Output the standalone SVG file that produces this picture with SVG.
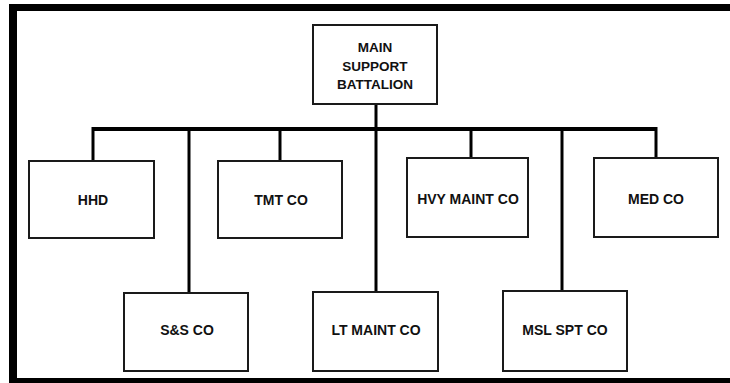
<svg xmlns="http://www.w3.org/2000/svg" width="730" height="383" viewBox="0 0 730 383">
<style>
.box{fill:#fff;stroke:#1a1a1a;stroke-width:2}
.lbl{font-family:"Liberation Sans",Arial,sans-serif;font-weight:bold;font-size:14px;fill:#111;text-anchor:middle}
.main{font-size:13.5px}
.ln{stroke:#000;stroke-width:3;fill:none}
.bus{stroke:#000;stroke-width:4;fill:none}
</style>
<rect x="0" y="0" width="730" height="383" fill="#fff"/>
<g id="frame">
<rect x="9" y="4" width="721" height="7" fill="#000"/>
<rect x="9" y="4" width="8" height="379" fill="#000"/>
<rect x="9" y="378" width="721" height="5" fill="#000"/>
</g>
<g id="connectors">
<line class="ln" x1="376" y1="104" x2="376" y2="292"/>
<line class="bus" x1="93" y1="129" x2="656" y2="129"/>
<line class="ln" x1="93" y1="127" x2="93" y2="161"/>
<line class="ln" x1="189" y1="127" x2="189" y2="293"/>
<line class="ln" x1="280" y1="127" x2="280" y2="161"/>
<line class="ln" x1="471" y1="127" x2="471" y2="158"/>
<line class="ln" x1="562" y1="127" x2="562" y2="291"/>
<line class="ln" x1="656" y1="127" x2="656" y2="158"/>
</g>
<g id="main-support-battalion">
<rect class="box" x="313" y="25" width="124" height="79"/>
<text class="lbl main" x="375" y="52">MAIN</text>
<text class="lbl main" x="375" y="71">SUPPORT</text>
<text class="lbl main" x="375" y="89">BATTALION</text>
</g>
<g id="hhd">
<rect class="box" x="29" y="161" width="125" height="77"/>
<text class="lbl" x="93" y="205">HHD</text>
</g>
<g id="tmt-co">
<rect class="box" x="218" y="161" width="124" height="77"/>
<text class="lbl" x="281" y="205">TMT CO</text>
</g>
<g id="hvy-maint-co">
<rect class="box" x="407" y="158" width="121" height="79"/>
<text class="lbl" x="468" y="204">HVY MAINT CO</text>
</g>
<g id="med-co">
<rect class="box" x="594" y="158" width="124" height="79"/>
<text class="lbl" x="656" y="204">MED CO</text>
</g>
<g id="ss-co">
<rect class="box" x="124" y="293" width="124" height="78"/>
<text class="lbl" x="187" y="335">S&amp;S CO</text>
</g>
<g id="lt-maint-co">
<rect class="box" x="313" y="292" width="125" height="79"/>
<text class="lbl" x="376" y="335">LT MAINT CO</text>
</g>
<g id="msl-spt-co">
<rect class="box" x="503" y="291" width="124" height="80"/>
<text class="lbl" x="565" y="335">MSL SPT CO</text>
</g>
</svg>
